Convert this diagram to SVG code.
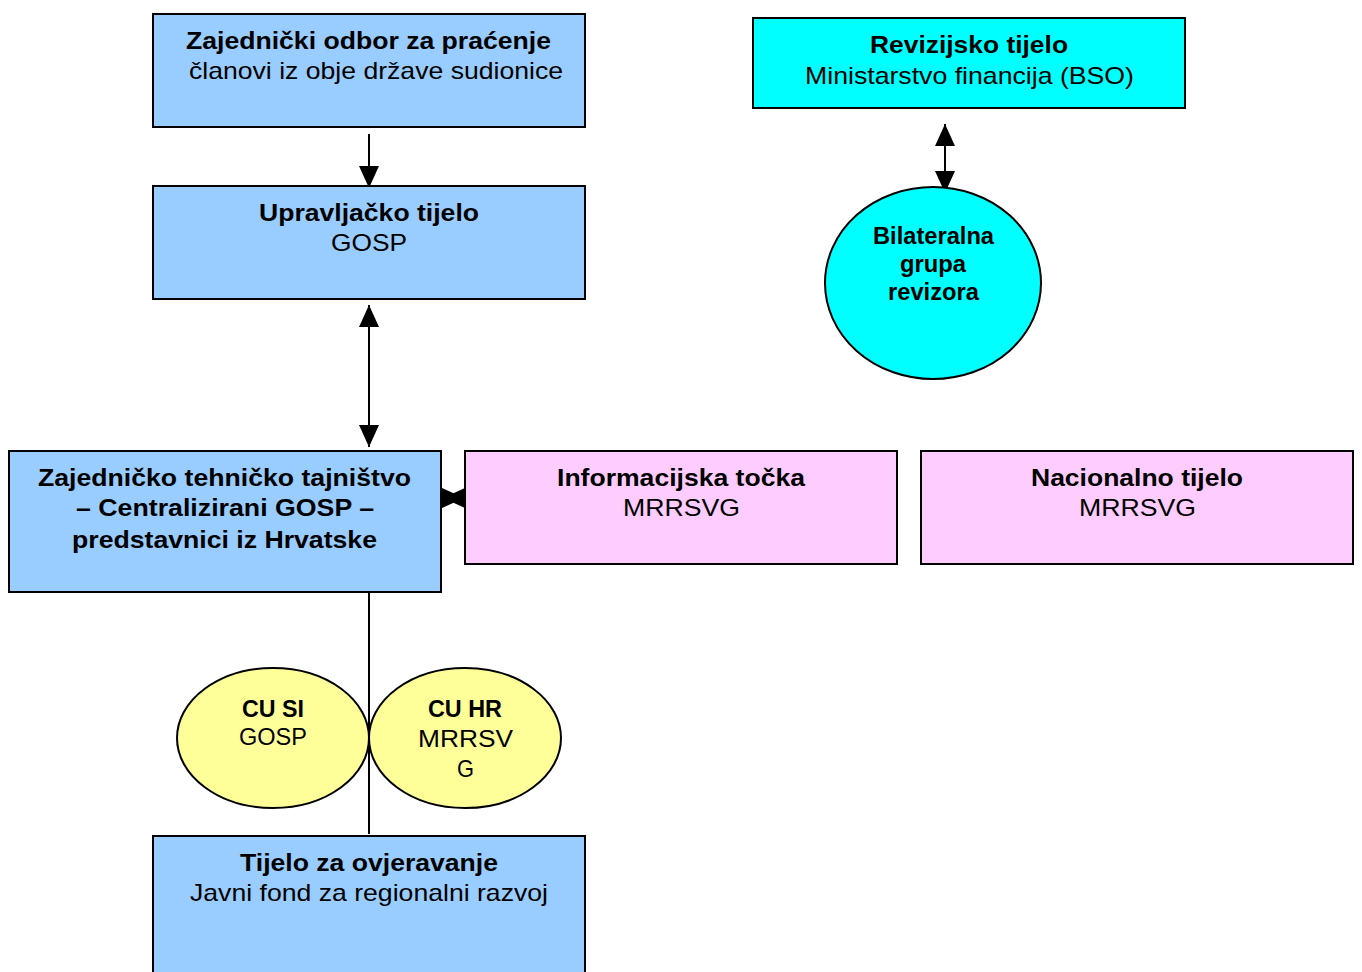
<svg xmlns="http://www.w3.org/2000/svg" width="1362" height="972" viewBox="0 0 1362 972">
<defs>
<style>
.box{stroke:#000;stroke-width:2}
.blue{fill:#99CCFF}.cyan{fill:#00FFFF}.pink{fill:#FFCCFF}.yellow{fill:#FFFF99}
text{font-family:"Liberation Sans",Arial,sans-serif;font-size:24px;text-anchor:middle;fill:#000}
.b{font-weight:bold}
.s{font-size:23px}
.c{stroke:#000;stroke-width:2;fill:none}
</style>
<marker id="ahl" viewBox="0 0 22 20" refX="22" refY="10" markerWidth="22" markerHeight="20" markerUnits="userSpaceOnUse" orient="auto-start-reverse">
<path d="M0,0 L22,10 L0,20 z" fill="#000"/>
</marker>
</defs>
<g id="connectors">
<line class="c" x1="369" y1="134" x2="369" y2="188" marker-end="url(#ahl)"/>
<line class="c" x1="369" y1="305" x2="369" y2="447" marker-start="url(#ahl)" marker-end="url(#ahl)"/>
<line class="c" x1="945" y1="124" x2="945" y2="193" marker-start="url(#ahl)" marker-end="url(#ahl)"/>
<line class="c" x1="443" y1="498" x2="464" y2="498" marker-start="url(#ahl)" marker-end="url(#ahl)"/>
<line class="c" x1="369" y1="592" x2="369" y2="834"/>
</g>
<g id="n1"><rect class="box blue" x="153" y="14" width="432" height="113"/>
<text class="b" x="368.5" y="49" textLength="365" lengthAdjust="spacingAndGlyphs">Zajednički odbor za praćenje</text>
<text x="376" y="79" textLength="374" lengthAdjust="spacingAndGlyphs">članovi iz obje države sudionice</text></g>
<g id="n2"><rect class="box blue" x="153" y="186" width="432" height="113"/>
<text class="b" x="369" y="221" textLength="220" lengthAdjust="spacingAndGlyphs">Upravljačko tijelo</text>
<text x="369" y="251" textLength="76" lengthAdjust="spacingAndGlyphs">GOSP</text></g>
<g id="n3"><rect class="box blue" x="9" y="451" width="432" height="141"/>
<text class="b" x="224.5" y="486" textLength="373" lengthAdjust="spacingAndGlyphs">Zajedničko tehničko tajništvo</text>
<text class="b" x="225" y="516" textLength="298" lengthAdjust="spacingAndGlyphs">– Centralizirani GOSP –</text>
<text class="b" x="224.5" y="548" textLength="305" lengthAdjust="spacingAndGlyphs">predstavnici iz Hrvatske</text></g>
<g id="n4"><rect class="box pink" x="465" y="451" width="432" height="113"/>
<text class="b" x="681" y="486" textLength="248" lengthAdjust="spacingAndGlyphs">Informacijska točka</text>
<text x="681.5" y="516" textLength="117" lengthAdjust="spacingAndGlyphs">MRRSVG</text></g>
<g id="n5"><rect class="box pink" x="921" y="451" width="432" height="113"/>
<text class="b" x="1137" y="486" textLength="212" lengthAdjust="spacingAndGlyphs">Nacionalno tijelo</text>
<text x="1137.5" y="516" textLength="117" lengthAdjust="spacingAndGlyphs">MRRSVG</text></g>
<g id="n6"><rect class="box cyan" x="753" y="18" width="432" height="90"/>
<text class="b" x="969" y="53" textLength="198" lengthAdjust="spacingAndGlyphs">Revizijsko tijelo</text>
<text x="969.5" y="84" textLength="329" lengthAdjust="spacingAndGlyphs">Ministarstvo financija (BSO)</text></g>
<g id="n7"><ellipse class="box cyan" cx="933" cy="283" rx="108" ry="96"/>
<text class="b s" x="933.5" y="244" textLength="121" lengthAdjust="spacingAndGlyphs">Bilateralna</text>
<text class="b s" x="933" y="272" textLength="66" lengthAdjust="spacingAndGlyphs">grupa</text>
<text class="b s" x="933.5" y="300" textLength="91" lengthAdjust="spacingAndGlyphs">revizora</text></g>
<g id="n8"><ellipse class="box yellow" cx="273" cy="738" rx="96" ry="70"/>
<text class="b s" x="273" y="717" textLength="62" lengthAdjust="spacingAndGlyphs">CU SI</text>
<text class="s" x="273" y="745" textLength="68" lengthAdjust="spacingAndGlyphs">GOSP</text></g>
<g id="n9"><ellipse class="box yellow" cx="465" cy="738" rx="96" ry="70"/>
<text class="b s" x="465" y="717" textLength="74" lengthAdjust="spacingAndGlyphs">CU HR</text>
<text x="465.5" y="747" textLength="95" lengthAdjust="spacingAndGlyphs">MRRSV</text>
<text x="465.5" y="777" textLength="17" lengthAdjust="spacingAndGlyphs">G</text></g>
<g id="n10"><rect class="box blue" x="153" y="836" width="432" height="150"/>
<text class="b" x="369" y="871" textLength="258" lengthAdjust="spacingAndGlyphs">Tijelo za ovjeravanje</text>
<text x="369" y="901" textLength="358" lengthAdjust="spacingAndGlyphs">Javni fond za regionalni razvoj</text></g>
</svg>
